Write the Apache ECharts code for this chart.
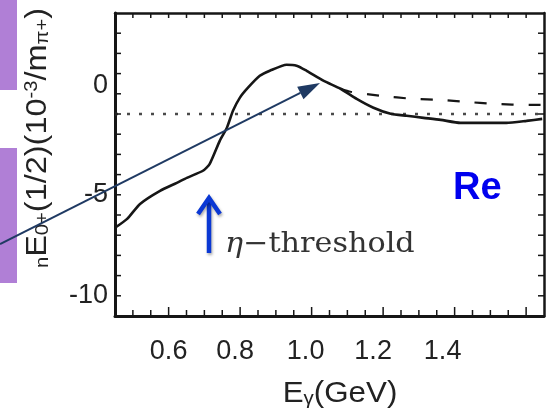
<!DOCTYPE html>
<html>
<head>
<meta charset="utf-8">
<script src="https://cdn.jsdelivr.net/npm/echarts@6/dist/echarts.min.js"></script>
<style>
  html, body { margin: 0; padding: 0; background: #fff; }
  #chart { width: 548px; height: 418px; }
</style>
</head>
<body>
<div id="chart"></div>
<script>
// full model (solid)
const solidX = [0.45, 0.484, 0.52, 0.576, 0.623, 0.651, 0.696, 0.715, 0.743, 0.763, 0.78, 0.799, 0.822, 0.855, 0.883, 0.93, 0.958, 0.986, 1.034, 1.081, 1.126, 1.173, 1.221, 1.266, 1.313, 1.361, 1.416, 1.472, 1.545, 1.601, 1.645];
const solidY = [-6.63, -6.19, -5.45, -4.8, -4.41, -4.16, -3.81, -3.47, -2.33, -1.68, -0.84, -0.2, 0.3, 0.89, 1.14, 1.44, 1.39, 1.14, 0.64, 0.25, -0.25, -0.69, -0.99, -1.09, -1.19, -1.29, -1.44, -1.44, -1.44, -1.34, -1.24];
// second model (dashed), splits off above 1.08 GeV
const dashX = [1.081, 1.109, 1.193, 1.285, 1.361, 1.433, 1.509, 1.612, 1.645];
const dashY = [0.25, 0.1, -0.1, -0.25, -0.3, -0.4, -0.5, -0.55, -0.55];
// dotted reference level
const refX = [0.45, 1.65];
const refY = [-1, -1];
// ticks / labels
const xTicks = [0.5, 0.55, 0.6, 0.65, 0.7, 0.75, 0.8, 0.85, 0.9, 0.95, 1.0, 1.05, 1.1, 1.15, 1.2, 1.25, 1.3, 1.35, 1.4, 1.45, 1.5, 1.55, 1.6];
const xMajor = [0.6, 0.8, 1.0, 1.2, 1.4, 1.6];
const yTicks = [-10, -9, -8, -7, -6, -5, -4, -3, -2, -1, 0, 1, 2, 3];
const xLabels = [0.6, 0.8, 1.0, 1.2, 1.4];
const yLabels = [0, -5, -10];

const X_MIN = 0.45, X_MAX = 1.65, Y_MIN = -11, Y_MAX = 4;

const pairs = (xs, ys) => xs.map((x, i) => [x, ys[i]]);
const font = 'Liberation Sans, Arial, sans-serif';
const ink = '#161616';
const hasValue = (list, v) => list.some((t) => Math.abs(t - v) < 1e-6);

// inward tick marks drawn through the axes' own scale
function tickSeries(data, dir, lenOf) {
  return {
    type: 'custom', silent: true, z: 5, data: data,
    renderItem: (params, api) => {
      const p = api.coord([api.value(0), api.value(1)]);
      const l = lenOf(api.value(0), api.value(1));
      return {
        type: 'line',
        shape: { x1: p[0], y1: p[1], x2: p[0] + dir[0] * l, y2: p[1] + dir[1] * l },
        style: { stroke: ink, lineWidth: 1.5 }
      };
    }
  };
}
const xLen = (x) => (hasValue(xMajor, x) ? 9 : 6);
const yLen = () => 6;

// the scanned labels drift a little left of their ticks
const labelShift = [0, 10, 12, 20, 24];
const xRich = {};
labelShift.forEach((p, i) => { xRich['l' + i] = { fontSize: 27, fontFamily: font, color: '#222', padding: [0, p, 0, 0] }; });

const chart = echarts.init(document.getElementById('chart'));

// navy arrow from the slide into the peak
const tail = [0, 244];
const tip = [320, 83];
const len = Math.hypot(tip[0] - tail[0], tip[1] - tail[1]);
const ux = (tip[0] - tail[0]) / len;
const uy = (tip[1] - tail[1]) / len;
const bx = tip[0] - 22 * ux;
const by = tip[1] - 22 * uy;
const head = [tip, [bx - 7 * uy, by + 7 * ux], [bx + 7 * uy, by - 7 * ux]];

const option = {
  animation: false,
  grid: { left: 115, top: 13, width: 429, height: 303 },
  xAxis: [
    {
      type: 'value', position: 'bottom', min: X_MIN, max: X_MAX, interval: 0.05,
      axisLine: { onZero: false, lineStyle: { color: ink, width: 3 } },
      axisTick: { show: false },
      splitLine: { show: false },
      axisLabel: {
        margin: 22, fontSize: 27, color: '#222', fontFamily: font, rich: xRich,
        formatter: (v) => {
          const i = xLabels.findIndex((t) => Math.abs(t - v) < 1e-6);
          return i < 0 ? '' : '{l' + i + '|' + v.toFixed(1) + '}';
        }
      }
    },
    {
      type: 'value', position: 'top', min: X_MIN, max: X_MAX,
      axisLine: { onZero: false, lineStyle: { color: ink, width: 2.5 } },
      axisTick: { show: false },
      axisLabel: { show: false },
      splitLine: { show: false }
    }
  ],
  yAxis: [
    {
      type: 'value', position: 'left', min: Y_MIN, max: Y_MAX, interval: 1,
      axisLine: { show: true, onZero: false, lineStyle: { color: ink, width: 3 } },
      axisTick: { show: false },
      splitLine: { show: false },
      axisLabel: {
        margin: 7, fontSize: 27, color: '#222', fontFamily: font,
        rich: { up: { fontSize: 27, fontFamily: font, color: '#222', padding: [0, 0, 16, 0] } },
        formatter: (v) => {
          if (!hasValue(yLabels, v)) return '';
          return v === 0 ? '{up|0}' : String(v);
        }
      }
    },
    {
      type: 'value', position: 'right', min: Y_MIN, max: Y_MAX,
      axisLine: { show: true, onZero: false, lineStyle: { color: ink, width: 2.5 } },
      axisTick: { show: false },
      axisLabel: { show: false },
      splitLine: { show: false }
    }
  ],
  series: [
    {
      type: 'line', data: pairs(refX, refY), symbol: 'none',
      lineStyle: { color: '#4a4a4a', width: 2.6, type: [3, 9] }
    },
    {
      type: 'line', data: pairs(dashX, dashY), symbol: 'none', smooth: 0.2,
      lineStyle: { color: ink, width: 2.2, type: [12, 15] }
    },
    {
      type: 'line', data: pairs(solidX, solidY), symbol: 'none', smooth: 0.2,
      lineStyle: { color: ink, width: 2.6 }
    },
    // frame ticks: bottom, top, left, right
    tickSeries(xTicks.map((x) => [x, Y_MIN]), [0, -1], xLen),
    tickSeries(xTicks.map((x) => [x, Y_MAX]), [0, 1], () => 5),
    tickSeries(yTicks.map((y) => [X_MIN, y]), [1, 0], yLen),
    tickSeries(yTicks.map((y) => [X_MAX, y]), [-1, 0], yLen)
  ],
  graphic: [
    // purple slide tabs on the left
    { type: 'rect', z: 90, shape: { x: 0, y: 0, width: 17, height: 90 }, style: { fill: '#b07fd6' } },
    { type: 'rect', z: 90, shape: { x: 0, y: 148, width: 17, height: 135 }, style: { fill: '#b07fd6' } },
    // y axis title (stretched like the scan)
    {
      type: 'text', z: 95, x: 38, y: 138, rotation: Math.PI / 2, scaleX: 1.12,
      style: {
        text: '{s|n}E{s|0+}(1/2)(10{p|-3}/m{s|π+})',
        fontSize: 29, fontFamily: font, fill: '#222', align: 'center', verticalAlign: 'middle',
        rich: {
          s: { fontSize: 18, fontFamily: font, fill: '#222', verticalAlign: 'bottom', padding: [9, 0, 0, 0] },
          p: { fontSize: 18, fontFamily: font, fill: '#222', verticalAlign: 'top' }
        }
      }
    },
    // x axis title
    {
      type: 'text', z: 95, x: 340, y: 394, scaleX: 1.08,
      style: {
        text: 'E{s|γ}(GeV)',
        fontSize: 29, fontFamily: font, fill: '#222', align: 'center', verticalAlign: 'middle',
        rich: { s: { fontSize: 19, fontFamily: font, fill: '#222', verticalAlign: 'bottom', padding: [8, 0, 0, 0] } }
      }
    },
    // navy arrow
    { type: 'line', z: 110, shape: { x1: tail[0], y1: tail[1], x2: bx, y2: by }, style: { stroke: '#1f3a63', lineWidth: 2 } },
    { type: 'polygon', z: 110, shape: { points: head }, style: { fill: '#1f3a63' } },
    // blue threshold arrow
    {
      type: 'polyline', z: 110, shape: { points: [[209, 253], [209, 199]] },
      style: { stroke: '#0a38d4', lineWidth: 4.5, shadowBlur: 3, shadowColor: 'rgba(0,0,0,0.35)', shadowOffsetX: 1, shadowOffsetY: 2 }
    },
    {
      type: 'polyline', z: 110, shape: { points: [[198, 214], [209, 198], [220, 214]] },
      style: { stroke: '#0a38d4', lineWidth: 4.5, lineJoin: 'miter', shadowBlur: 3, shadowColor: 'rgba(0,0,0,0.35)', shadowOffsetX: 1, shadowOffsetY: 2 }
    },
    {
      type: 'text', z: 100, x: 225, y: 245, scaleX: 1.08,
      style: {
        text: '{i|η}−threshold',
        fontSize: 28, fontFamily: 'DejaVu Serif, serif', fill: '#333', verticalAlign: 'middle',
        rich: { i: { fontSize: 28, fontFamily: 'DejaVu Serif, serif', fontStyle: 'italic', fill: '#333' } }
      }
    },
    {
      type: 'text', z: 100, x: 453, y: 189,
      style: { text: 'Re', fontSize: 38, fontWeight: 'bold', fontFamily: font, fill: '#0000ee', verticalAlign: 'middle' }
    }
  ]
};

chart.setOption(option);
</script>
</body>
</html>
